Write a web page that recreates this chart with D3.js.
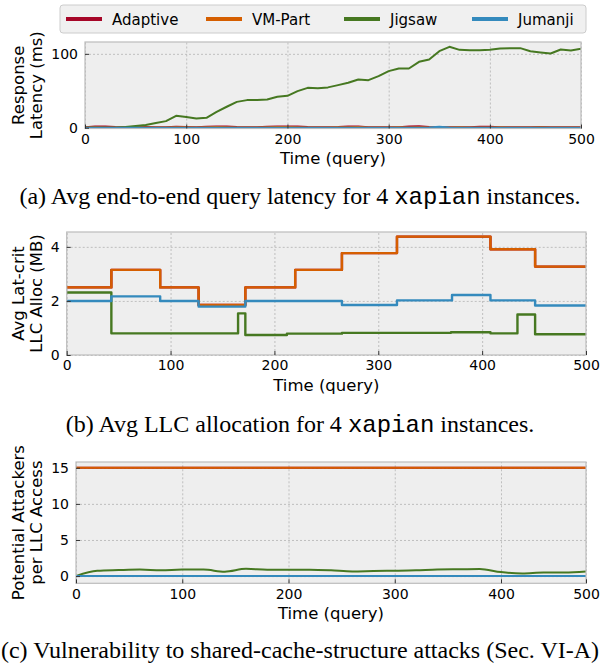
<!DOCTYPE html>
<html>
<head>
<meta charset="utf-8">
<script src="https://cdn.jsdelivr.net/npm/d3@7"></script>
<style>
  body { margin: 0; background: #fff; }
  text { font-family: "DejaVu Sans", sans-serif; fill: #000; }
  .caption { font-family: "Liberation Serif", "Times New Roman", serif; }
  .mono { font-family: "Liberation Mono", "DejaVu Sans Mono", monospace; }
</style>
</head>
<body>
<div id="chart"></div>
<script>
// series names / colours (bmh palette)
var names = ['Adaptive', 'VM-Part', 'Jigsaw', 'Jumanji'];
var colors = ['#A60628', '#D55E00', '#467821', '#348ABD'];

// (a) response latency (ms), sampled every 10 queries
var latQuery = [0, 10, 20, 30, 40, 50, 60, 70, 80, 90,
    100, 110, 120, 130, 140, 150, 160, 170, 180, 190,
    200, 210, 220, 230, 240, 250, 260, 270, 280, 290,
    300, 310, 320, 330, 340, 350, 360, 370, 380, 390,
    400, 410, 420, 430, 440, 450, 460, 470, 480, 490];
var latAdaptive = [0.8, 1.6, 1.8, 0.9, 0.6, 0.8, 1.0, 0.7, 0.8, 1.4,
    0.9, 0.7, 1.5, 1.8, 1.6, 0.9, 0.8, 0.7, 1.5, 1.7,
    1.6, 1.8, 0.9, 0.7, 0.8, 1.0, 1.6, 1.7, 0.8, 0.7,
    0.6, 0.8, 1.6, 1.9, 0.9, 0.8, 0.7, 0.6, 0.8, 1.2,
    1.4, 0.8, 0.7, 0.6, 0.8, 0.9, 0.7, 0.8, 0.6, 0.7];
var latVmPart = [0.5, 0.6, 0.5, 0.4, 0.5, 0.6, 0.5, 0.4, 0.5, 0.6,
    0.7, 0.5, 0.8, 1.0, 0.6, 0.5, 0.4, 0.5, 0.6, 0.9,
    1.0, 0.8, 0.5, 0.4, 0.5, 0.6, 0.7, 0.9, 0.5, 0.4,
    0.5, 0.6, 0.5, 0.7, 0.5, 0.4, 0.5, 0.6, 0.5, 0.4,
    0.5, 0.6, 0.5, 0.4, 0.5, 0.6, 0.5, 0.4, 0.5, 0.5];
var latJigsaw = [0, 0, 0, 0, 1, 2.5, 3.6, 6.3, 9, 16.2,
    14.4, 12.6, 13.5, 21.6, 28.4, 35, 37.4, 37.4, 38.3, 42,
    43.2, 49.5, 54, 53.6, 54.6, 57.7, 60.8, 65.3, 64.4, 69.9,
    76.6, 80.2, 80.2, 89.2, 92.4, 103.6, 109.5, 105.4, 105, 105,
    105.4, 107.3, 107.7, 107.7, 103.6, 101.9, 100.5, 105.9, 104.6, 106.8];
var latJumanji = [0, 0, 0, 0, 0, 0, 0, 0, 0, 0,
    0, 0, 0, 0, 0, 0, 0, 0, 0, 0,
    0, 0, 0, 0, 0, 0, 0, 0, 0, 0,
    0, 0, 0, 0, 0.3, 1.4, 0.3, 0, 0, 0,
    0, 0, 0, 0, 0, 0, 0, 0, 0, 0];

// (b) avg LLC allocation (MB): step change points
var allocQueryVm = [0, 43, 90, 127, 172, 220, 265, 318, 408, 451, 500];
var allocVmPart = [2.5, 3.15, 2.5, 1.85, 2.5, 3.15, 3.77, 4.38, 3.91, 3.27, 3.27];
var allocAdaptive = [2.5, 3.15, 2.5, 1.85, 2.5, 3.15, 3.77, 4.38, 3.91, 3.27, 3.27];
var allocQueryJig = [0, 43, 165, 172, 212, 265, 370, 408, 434, 451, 500];
var allocJigsaw = [2.31, 0.8, 1.54, 0.74, 0.79, 0.82, 0.84, 0.8, 1.5, 0.77, 0.77];
var allocQueryJum = [0, 43, 90, 127, 172, 265, 318, 371, 408, 451, 500];
var allocJumanji = [2.0, 2.17, 2.0, 1.79, 2.0, 1.85, 2.02, 2.22, 2.02, 1.83, 1.83];

// (c) potential attackers per LLC access, every 20 queries
var vulnQuery = [0, 20, 40, 60, 80, 100, 120, 140, 160, 180, 200, 220, 240,
    260, 280, 300, 320, 340, 360, 380, 400, 420, 440, 460, 480];
var vulnAdaptive = [15, 15, 15, 15, 15, 15, 15, 15, 15, 15, 15, 15, 15,
    15, 15, 15, 15, 15, 15, 15, 15, 15, 15, 15, 15];
var vulnVmPart = [15, 15, 15, 15, 15, 15, 15, 15, 15, 15, 15, 15, 15,
    15, 15, 15, 15, 15, 15, 15, 15, 15, 15, 15, 15];
var vulnJigsaw = [0, 0.73, 0.83, 0.9, 0.8, 0.9, 0.9, 0.6, 1.0, 0.88, 0.88, 0.88, 0.8,
    0.65, 0.7, 0.74, 0.8, 0.92, 0.95, 0.97, 0.55, 0.37, 0.5, 0.5, 0.65];
var vulnJumanji = [0, 0, 0, 0, 0, 0, 0, 0, 0, 0, 0, 0, 0,
    0, 0, 0, 0, 0, 0, 0, 0, 0, 0, 0, 0];

var xTickLabels = ['0', '100', '200', '300', '400', '500'];

var svg = d3.select('#chart').append('svg')
    .attr('width', 600).attr('height', 664);

function panel(cfg) {
    var x = d3.scaleLinear().domain([0, cfg.xEnd]).range([cfg.left, cfg.right]);
    var y = d3.scaleLinear().domain(cfg.yDomain).range([cfg.bottom, cfg.top]);
    var w = cfg.right - cfg.left, h = cfg.bottom - cfg.top;
    var g = svg.append('g');

    g.append('rect')
        .attr('x', cfg.left).attr('y', cfg.top)
        .attr('width', w).attr('height', h)
        .attr('fill', '#eeeeee');

    // grid
    g.append('g')
        .attr('transform', `translate(0, ${cfg.bottom})`)
        .call(d3.axisBottom(x).tickValues(cfg.xTicks).tickSize(-h).tickFormat(''))
        .call(a => a.select('.domain').remove())
        .selectAll('line').attr('stroke', '#b2b2b2').attr('stroke-dasharray', '2,2').attr('stroke-width', 0.8);
    g.append('g')
        .attr('transform', `translate(${cfg.left}, 0)`)
        .call(d3.axisLeft(y).tickValues(cfg.yTicks).tickSize(-w).tickFormat(''))
        .call(a => a.select('.domain').remove())
        .selectAll('line').attr('stroke', '#b2b2b2').attr('stroke-dasharray', '2,2').attr('stroke-width', 0.8);

    var clipId = 'clip' + cfg.id;
    svg.append('clipPath').attr('id', clipId).append('rect')
        .attr('x', cfg.left).attr('y', cfg.top).attr('width', w).attr('height', h);

    var lines = g.append('g').attr('clip-path', `url(#${clipId})`);
    cfg.series.forEach(function (s) {
        var pts = s.xs.map((q, i) => [q, s.ys[i]]);
        lines.append('path')
            .datum(pts)
            .attr('fill', 'none')
            .attr('stroke', colors[s.k])
            .attr('stroke-width', cfg.lw)
            .attr('stroke-linejoin', 'round')
            .attr('d', d3.line().x(d => x(d[0])).y(d => y(d[1])).curve(cfg.curve));
    });

    g.append('rect')
        .attr('x', cfg.left).attr('y', cfg.top)
        .attr('width', w).attr('height', h)
        .attr('fill', 'none').attr('stroke', '#bcbcbc').attr('stroke-width', 1.2);

    // axes with inward ticks
    var xa = g.append('g')
        .attr('transform', `translate(0, ${cfg.bottom})`)
        .call(d3.axisBottom(x).tickValues(cfg.xTicks).tickSize(-4).tickPadding(5.5)
            .tickFormat((d, i) => xTickLabels[i]));
    xa.select('.domain').remove();
    xa.selectAll('line').attr('stroke', '#333');
    xa.selectAll('text').attr('font-size', 14).attr('font-family', 'DejaVu Sans');

    var ya = g.append('g')
        .attr('transform', `translate(${cfg.left}, 0)`)
        .call(d3.axisLeft(y).tickValues(cfg.yTicks).tickSize(-4).tickPadding(7)
            .tickFormat(d3.format('d')));
    ya.select('.domain').remove();
    ya.selectAll('line').attr('stroke', '#333');
    ya.selectAll('text').attr('font-size', 14).attr('font-family', 'DejaVu Sans');

    svg.append('text')
        .attr('x', (cfg.left + cfg.right) / 2)
        .attr('y', cfg.bottom + 35.5)
        .attr('text-anchor', 'middle')
        .attr('font-size', 16.5)
        .text('Time (query)');

    var cy = (cfg.top + cfg.bottom) / 2;
    var yl = svg.append('text')
        .attr('transform', `translate(24, ${cy}) rotate(-90)`)
        .attr('text-anchor', 'middle')
        .attr('font-size', 16.5);
    yl.append('tspan').attr('x', 0).attr('dy', 0).text(cfg.yLabel[0]);
    yl.append('tspan').attr('x', 0).attr('dy', 18).text(cfg.yLabel[1]);

    var cap = svg.append('text')
        .attr('class', 'caption')
        .attr('x', 300).attr('y', cfg.capY)
        .attr('text-anchor', 'middle')
        .attr('font-size', 24);
    cfg.caption.forEach(function (c) {
        cap.append('tspan').attr('class', c.mono ? 'mono' : 'caption').text(c.t);
    });
}

panel({
    id: 'a', left: 85, right: 581, top: 42, bottom: 128.5,
    xEnd: 490, xTicks: [0, 100, 200, 300, 400, 490],
    yDomain: [-1, 116], yTicks: [0, 100], lw: 2, curve: d3.curveLinear,
    series: [
        { k: 0, xs: latQuery, ys: latAdaptive },
        { k: 1, xs: latQuery, ys: latVmPart },
        { k: 2, xs: latQuery, ys: latJigsaw },
        { k: 3, xs: latQuery, ys: latJumanji }
    ],
    yLabel: ['Response', 'Latency (ms)'],
    capY: 204,
    caption: [{ t: '(a) Avg end-to-end query latency for 4 ' }, { t: 'xapian', mono: true }, { t: ' instances.' }]
});

panel({
    id: 'b', left: 66.7, right: 586, top: 232, bottom: 355,
    xEnd: 500, xTicks: [0, 100, 200, 300, 400, 500],
    yDomain: [0, 4.55], yTicks: [0, 2, 4], lw: 2.4, curve: d3.curveStepAfter,
    series: [
        { k: 0, xs: allocQueryVm, ys: allocAdaptive },
        { k: 1, xs: allocQueryVm, ys: allocVmPart },
        { k: 2, xs: allocQueryJig, ys: allocJigsaw },
        { k: 3, xs: allocQueryJum, ys: allocJumanji }
    ],
    yLabel: ['Avg Lat-crit', 'LLC Alloc (MB)'],
    capY: 432,
    caption: [{ t: '(b) Avg LLC allocation for 4 ' }, { t: 'xapian', mono: true }, { t: ' instances.' }]
});

panel({
    id: 'c', left: 76, right: 586, top: 462, bottom: 583.3,
    xEnd: 480, xTicks: [0, 100, 200, 300, 400, 480],
    yDomain: [-1, 15.8], yTicks: [0, 5, 10, 15], lw: 2, curve: d3.curveMonotoneX,
    series: [
        { k: 0, xs: vulnQuery, ys: vulnAdaptive },
        { k: 1, xs: vulnQuery, ys: vulnVmPart },
        { k: 2, xs: vulnQuery, ys: vulnJigsaw },
        { k: 3, xs: vulnQuery, ys: vulnJumanji }
    ],
    yLabel: ['Potential Attackers', 'per LLC Access'],
    capY: 658,
    caption: [{ t: '(c) Vulnerability to shared-cache-structure attacks (Sec. VI-A)' }]
});

// legend
var legend = svg.append('g');
legend.append('rect')
    .attr('x', 60).attr('y', 5).attr('width', 526).attr('height', 28)
    .attr('rx', 3).attr('fill', '#f0f0f0').attr('stroke', '#cccccc');
var legendX = [66, 206, 344, 472];
names.forEach(function (n, i) {
    legend.append('line')
        .attr('x1', legendX[i]).attr('x2', legendX[i] + 36)
        .attr('y1', 19).attr('y2', 19)
        .attr('stroke', colors[i]).attr('stroke-width', 4);
    legend.append('text')
        .attr('x', legendX[i] + 46).attr('y', 24.5)
        .attr('font-size', 15)
        .text(n);
});
</script>
</body>
</html>
